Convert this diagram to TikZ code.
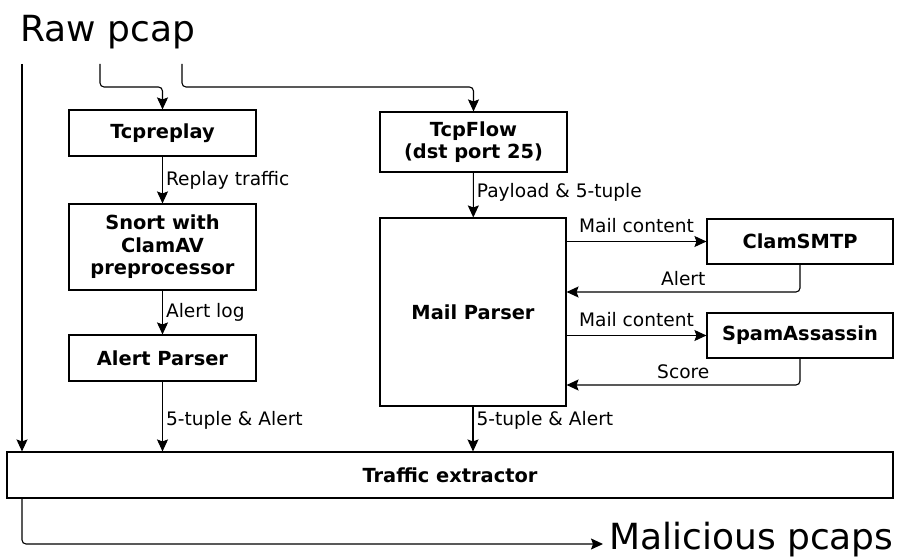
\documentclass[tikz,border=0pt]{standalone}
\usepackage{fontspec}
\setmainfont{DejaVu Sans}
\usetikzlibrary{arrows.meta,calc}

\tikzset{
	box/.style={draw, line width=1.1pt, minimum width=187pt, align=center,
		font=\bfseries\fontsize{19.4}{22.5}\selectfont},
	arr/.style={line width=1.1pt, -{Stealth[length=12pt,width=11pt,inset=2pt]}},
	lbl/.style={font=\fontsize{18.6}{21}\selectfont, inner sep=3pt},
	big/.style={font=\fontsize{36}{40}\selectfont, inner sep=0pt}
}

\begin{document}
\begin{tikzpicture}[x=1pt,y=-1pt]
	\useasboundingbox (0,0) rectangle (900,559);

	\node[big, anchor=base west] (raw) at (20,42) {Raw pcap};

	\node[box, minimum height=46pt] (tcpreplay) at (162.5,133) {Tcpreplay};
	\node[box, minimum height=86pt] (snort) at (162.5,247) {Snort with\\ClamAV\\preprocessor};
	\node[box, minimum height=46pt] (alertparser) at (162.5,358) {Alert Parser};

	\node[box, minimum height=60pt] (tcpflow) at (473.5,142) {TcpFlow\\(dst port 25)};
	\node[box, minimum width=186pt, minimum height=188pt] (mailparser) at (473,312) {Mail Parser};

	\node[box, minimum width=186pt, minimum height=45pt] (clamsmtp) at (800,241.5) {ClamSMTP};
	\node[box, minimum width=186pt, minimum height=45pt] (spamassassin) at (800,335.5) {SpamAssassin};

	\node[box, minimum width=886pt, minimum height=46pt] (extractor) at (450,475) {Traffic extractor};

	\node[big, anchor=base west] (malicious) at (609,549) {Malicious pcaps};

	% raw pcap feeds
	\coordinate (s1) at (22,64);
	\coordinate (s2) at (100,64);
	\coordinate (s3) at (182,64);
	\draw[arr] (s1) -- (s1 |- extractor.north);
	\draw[arr, rounded corners=4pt] (s2) -- (100,87) -| (tcpreplay.north);
	\draw[arr, rounded corners=4pt] (s3) -- (182,87) -| (tcpflow.north);

	% left chain
	\draw[arr] (tcpreplay) -- node[lbl, right] {Replay traffic} (snort);
	\draw[arr] (snort) -- node[lbl, right] {Alert log} (alertparser);
	\draw[arr] (alertparser) -- node[lbl, right, pos=0.55] {5-tuple \& Alert} (alertparser |- extractor.north);

	% right chain
	\draw[arr] (tcpflow) -- node[lbl, right, pos=0.45] {Payload \& 5-tuple} (mailparser);
	\draw[arr] (mailparser.east |- clamsmtp) -- node[lbl, above, yshift=5pt] {Mail content} (clamsmtp.west);
	\draw[arr, rounded corners=4pt] (clamsmtp.south) |- node[lbl, above, pos=0.75, yshift=3pt] {Alert} ([yshift=20pt]mailparser.east);
	\draw[arr] (mailparser.east |- spamassassin) -- node[lbl, above, yshift=5pt] {Mail content} (spamassassin.west);
	\draw[arr, rounded corners=4pt] (spamassassin.south) |- node[lbl, above, pos=0.75, yshift=3pt] {Score} ([yshift=-73pt]mailparser.east);
	\draw[arr] (mailparser) -- node[lbl, right, pos=0.3] {5-tuple \& Alert} (mailparser |- extractor.north);

	% output
	\draw[arr, rounded corners=4pt] (extractor.south -| s1) |- ($(malicious.base west)+(-6,-5)$);
\end{tikzpicture}
\end{document}
